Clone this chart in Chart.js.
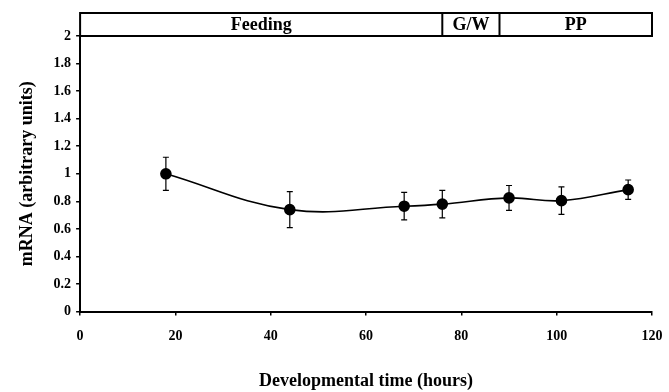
<!DOCTYPE html>
<html>
<head>
<meta charset="utf-8">
<script src="https://cdn.jsdelivr.net/npm/chart.js@4"></script>
<style>
html,body{margin:0;padding:0;background:#fff;}
#wrap{width:669px;height:392px;position:relative;}
</style>
</head>
<body>
<div id="wrap"><canvas id="c" width="669" height="392"></canvas></div>
<script>
// ---- data ----
const hours = [18, 44, 68, 76, 90, 101, 115];
const mrna = [1.00, 0.74, 0.765, 0.78, 0.825, 0.805, 0.885];
const errs = [0.12, 0.13, 0.10, 0.10, 0.09, 0.10, 0.07];
const stageNames = ["Feeding", "G/W", "PP"];
const stageStarts = [0, 76, 88];
const stageEnds = [76, 88, 120];

const FONT = "'Liberation Serif', 'Times New Roman', serif";

const errorBars = {
  id: 'errorBars',
  afterDatasetsDraw(chart) {
    const {ctx, scales: {x, y}} = chart;
    ctx.save();
    ctx.strokeStyle = '#000';
    ctx.lineWidth = 1.2;
    hours.forEach((h, i) => {
      const px = x.getPixelForValue(h);
      const top = y.getPixelForValue(mrna[i] + errs[i]);
      const bot = y.getPixelForValue(mrna[i] - errs[i]);
      ctx.beginPath();
      ctx.moveTo(px, top); ctx.lineTo(px, bot);
      ctx.moveTo(px - 3, top); ctx.lineTo(px + 3, top);
      ctx.moveTo(px - 3, bot); ctx.lineTo(px + 3, bot);
      ctx.stroke();
    });
    ctx.restore();
  }
};

const stageBand = {
  id: 'stageBand',
  afterDraw(chart) {
    const {ctx, chartArea, scales: {x}} = chart;
    const top = chartArea.top - 23, bot = chartArea.top;
    ctx.save();
    ctx.strokeStyle = '#000';
    ctx.lineWidth = 2;
    ctx.strokeRect(chartArea.left, top, chartArea.right - chartArea.left, bot - top);
    ctx.font = "bold 18px " + FONT;
    ctx.fillStyle = '#000';
    ctx.textAlign = 'center';
    ctx.textBaseline = 'middle';
    stageNames.forEach((n, i) => {
      const x0 = x.getPixelForValue(stageStarts[i]);
      const x1 = x.getPixelForValue(stageEnds[i]);
      if (i > 0) {
        ctx.beginPath(); ctx.moveTo(x0, top); ctx.lineTo(x0, bot); ctx.stroke();
      }
      ctx.fillText(n, (x0 + x1) / 2, (top + bot) / 2 + 1);
    });
    ctx.restore();
  }
};

new Chart(document.getElementById('c'), {
  type: 'line',
  data: {
    datasets: [{
      data: hours.map((h, i) => ({x: h, y: mrna[i]})),
      borderColor: '#000',
      backgroundColor: '#000',
      borderWidth: 1.6,
      pointRadius: 5,
      pointBackgroundColor: '#000',
      pointBorderColor: '#000',
      tension: 0.4,
      cubicInterpolationMode: 'default',
      fill: false
    }]
  },
  options: {
    responsive: false,
    animation: false,
    layout: {padding: {top: 36, right: 17, left: 17, bottom: 0}},
    plugins: {legend: {display: false}, tooltip: {enabled: false}},
    scales: {
      x: {
        type: 'linear', min: 0, max: 120,
        afterFit: s => { s.paddingRight = 12; },
        ticks: {stepSize: 20, color: '#000', font: {family: FONT, weight: 'bold', size: 14}, padding: 12},
        grid: {display: true, drawOnChartArea: false, drawTicks: true, tickLength: 4, color: '#000', lineWidth: 1.5},
        border: {display: true, color: '#000', width: 2},
        title: {display: true, text: 'Developmental time (hours)', color: '#000',
          font: {family: FONT, weight: 'bold', size: 18}, padding: {top: 14, bottom: 0}}
      },
      y: {
        min: 0, max: 2,
        ticks: {stepSize: 0.2, color: '#000', font: {family: FONT, weight: 'bold', size: 14}, padding: 5,
          callback: v => String(+v.toFixed(1))},
        grid: {display: true, drawOnChartArea: false, drawTicks: true, tickLength: 4, color: '#000', lineWidth: 1.5},
        border: {display: true, color: '#000', width: 2},
        title: {display: true, text: 'mRNA (arbitrary units)', color: '#000',
          font: {family: FONT, weight: 'bold', size: 18}, padding: {top: 0, bottom: 10}}
      }
    }
  },
  plugins: [errorBars, stageBand]
});
</script>
</body>
</html>
